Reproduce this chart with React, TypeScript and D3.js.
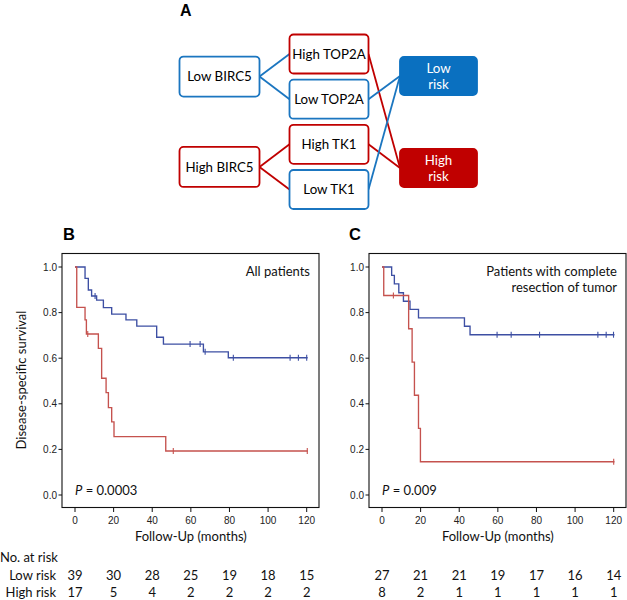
import React from 'react';
import * as d3 from 'd3';

// ---------- Data ----------
const monthTicks = [0, 20, 40, 60, 80, 100, 120];
const survTicks = [0, 0.2, 0.4, 0.6, 0.8, 1.0];

// Panel B (all patients)
const bLowTimes = [0, 5.2, 6.9, 8.6, 11.2, 14.7, 19.0, 26.4, 32.0, 42.3, 45.8, 66.5, 79.4, 120.5];
const bLowSurv = [1, 0.95, 0.899, 0.873, 0.855, 0.822, 0.793, 0.768, 0.741, 0.692, 0.662, 0.628, 0.602, 0.602];
const bLowCensor = [10.4, 59.6, 64.8, 67.4, 82, 111.4, 115.7, 120];
const bHighTimes = [0, 0.9, 5.2, 5.9, 12.1, 13.8, 16.1, 17.3, 19.0, 20.2, 47.0, 120.5];
const bHighSurv = [1, 0.823, 0.768, 0.706, 0.643, 0.512, 0.449, 0.383, 0.321, 0.256, 0.193, 0.193];
const bHighCensor = [6.6, 50.9, 120.3];
const bLowAtRisk = [39, 30, 28, 25, 19, 18, 15];
const bHighAtRisk = [17, 5, 4, 2, 2, 2, 2];

// Panel C (complete resection)
const cLowTimes = [0, 5.0, 6.4, 8.7, 11.1, 14.5, 18.9, 42.7, 45.6, 120.4];
const cLowSurv = [1, 0.963, 0.926, 0.887, 0.85, 0.814, 0.777, 0.74, 0.703, 0.703];
const cLowCensor = [59.6, 66.9, 81.6, 111.8, 116.1, 119.9];
const cHighTimes = [0, 0.9, 13.8, 15.6, 16.8, 18.9, 19.9, 120.4];
const cHighSurv = [1, 0.875, 0.729, 0.583, 0.4375, 0.292, 0.146, 0.146];
const cHighCensor = [5.9, 120.0];
const cLowAtRisk = [27, 21, 21, 19, 17, 16, 14];
const cHighAtRisk = [8, 2, 1, 1, 1, 1, 1];

// Panel A (decision diagram)
const stageLabels = [['Low BIRC5'], ['High BIRC5']];
const markerLabels = [['High TOP2A'], ['Low TOP2A'], ['High TK1'], ['Low TK1']];
const markerLevels = ['high', 'low', 'high', 'low'];
const stageLevels = ['low', 'high'];
const riskLabels = [['Low', 'risk'], ['High', 'risk']];
const riskLevels = ['low', 'high'];
const markerParent = [0, 0, 1, 1];
const markerTarget = [1, 0, 1, 0];

// ---------- Styling ----------
const KM_BLUE = '#3d4fa3';
const KM_RED = '#c5524e';
const DG_BLUE = '#1b76c0';
const DG_BLUE_FILL = '#0a70c0';
const DG_RED = '#c00000';
const TXT_FONT = 'Lato, "Open Sans", sans-serif';
const TICK_FONT = '"Liberation Sans Narrow", "Arial Narrow", "Liberation Sans", sans-serif';
const BOLD_FONT = '"Liberation Sans", Arial, sans-serif';

const BOX_TOP = 253.5;
const BOX_BOTTOM = 507.5;
const BOX_W = 257;

function stepValue(times: number[], surv: number[], t: number) {
  let v = surv[0];
  for (let i = 0; i < times.length; i++) {
    if (times[i] <= t) v = surv[i];
  }
  return v;
}

type Series = { times: number[]; surv: number[]; censor: number[]; color: string };

function KMPanel(props: {
  x0: number;
  label: string;
  labelX: number;
  title: string[];
  pValue: string;
  series: Series[];
  riskLow: number[];
  riskHigh: number[];
  yLabel?: boolean;
  rowLabels?: boolean;
}) {
  const { x0 } = props;
  const x = d3.scaleLinear().domain([0, 120]).range([x0 + 13, x0 + 13 + 231.7]);
  const y = d3.scaleLinear().domain([0, 1]).range([495, 267]);
  const line = d3
    .line<[number, number]>()
    .x((d) => x(d[0]))
    .y((d) => y(d[1]))
    .curve(d3.curveStepAfter);

  return (
    <g>
      <text x={props.labelX} y={240} fontFamily={BOLD_FONT} fontWeight="bold" fontSize={16.5} fill="#000">
        {props.label}
      </text>
      <rect x={x0} y={BOX_TOP} width={BOX_W} height={BOX_BOTTOM - BOX_TOP} fill="none" stroke="#111" strokeWidth={1.1} />
      {survTicks.map((t) => (
        <g key={'y' + t}>
          <line x1={x0 - 3.5} x2={x0} y1={y(t)} y2={y(t)} stroke="#111" strokeWidth={1} />
          <text x={x0 - 5} y={y(t)} dy="0.35em" textAnchor="end" fontFamily={TICK_FONT} fontSize={10} fill="#222">
            {t.toFixed(1)}
          </text>
        </g>
      ))}
      {monthTicks.map((t) => (
        <g key={'x' + t}>
          <line x1={x(t)} x2={x(t)} y1={BOX_BOTTOM} y2={BOX_BOTTOM + 4.5} stroke="#111" strokeWidth={1} />
          <text x={x(t)} y={524} textAnchor="middle" fontFamily={TICK_FONT} fontSize={10} fill="#222">
            {t}
          </text>
        </g>
      ))}
      <text x={x(60)} y={540.5} textAnchor="middle" fontFamily={TXT_FONT} fontSize={13} fill="#111">
        Follow-Up (months)
      </text>
      {props.yLabel && (
        <text
          transform={`translate(26,380) rotate(-90)`}
          textAnchor="middle"
          fontFamily={TXT_FONT}
          fontSize={13}
          fill="#111"
        >
          Disease-specific survival
        </text>
      )}
      {props.title.map((t, i) => (
        <text key={t} x={x0 + 248} y={276 + i * 16} textAnchor="end" fontFamily={TXT_FONT} fontSize={13} fill="#111">
          {t}
        </text>
      ))}
      <text x={x(0)} y={495} fontFamily={TXT_FONT} fontSize={13} fill="#111">
        <tspan fontStyle="italic">P</tspan>
        {' = ' + props.pValue}
      </text>
      {props.series.map((s, si) => {
        const pts = s.times.map((t, i) => [t, s.surv[i]] as [number, number]);
        return (
          <g key={si}>
            <path d={line(pts) || ''} fill="none" stroke={s.color} strokeWidth={1.35} />
            {s.censor.map((c, ci) => {
              const v = stepValue(s.times, s.surv, c);
              return (
                <line key={ci} x1={x(c)} x2={x(c)} y1={y(v) - 3} y2={y(v) + 3} stroke={s.color} strokeWidth={1.1} />
              );
            })}
          </g>
        );
      })}
      {props.rowLabels && (
        <g fontFamily={TXT_FONT} fontSize={13} fill="#111">
          <text x={0} y={562}>No. at risk</text>
          <text x={56} y={580} textAnchor="end">Low risk</text>
          <text x={56} y={597} textAnchor="end">High risk</text>
        </g>
      )}
      <g fontFamily={TXT_FONT} fontSize={13} fill="#111" textAnchor="middle">
        {props.riskLow.map((n, i) => (
          <text key={'l' + i} x={x(monthTicks[i])} y={580}>
            {n}
          </text>
        ))}
        {props.riskHigh.map((n, i) => (
          <text key={'h' + i} x={x(monthTicks[i])} y={597}>
            {n}
          </text>
        ))}
      </g>
    </g>
  );
}

function Diagram() {
  const colX = [179.5, 289.5, 400];
  const colW = [80, 79, 77];
  const colH = [40, 39, 38];
  const markerY = d3.scaleLinear().domain([0, 3]).range([54, 189.5]);
  const markerCenters = markerLabels.map((_, i) => markerY(i));
  const pairCenters = [0, 1].map((k) => (markerCenters[2 * k] + markerCenters[2 * k + 1]) / 2);
  const stageCenters = pairCenters;
  const riskCenters = [76, 168];
  const col = (lvl: string) => (lvl === 'low' ? DG_BLUE : DG_RED);

  const box = (key: string, c: number, cy: number, lines: string[], lvl: string, filled: boolean) => {
    const h = colH[c];
    const cx = colX[c] + colW[c] / 2;
    return (
      <g key={key}>
        <rect
          x={colX[c]}
          y={cy - h / 2}
          width={colW[c]}
          height={h}
          rx={4}
          fill={filled ? (lvl === 'low' ? DG_BLUE_FILL : DG_RED) : '#fff'}
          stroke={filled ? (lvl === 'low' ? DG_BLUE_FILL : DG_RED) : col(lvl)}
          strokeWidth={1.8}
        />
        {lines.map((t, i) => (
          <text
            key={i}
            x={cx}
            y={cy + (i - (lines.length - 1) / 2) * 16}
            dy="0.36em"
            textAnchor="middle"
            fontFamily={TXT_FONT}
            fontSize={13.3}
            fill={filled ? '#fff' : '#000'}
          >
            {t}
          </text>
        ))}
      </g>
    );
  };

  return (
    <g>
      <text x={180} y={16} fontFamily={BOLD_FONT} fontWeight="bold" fontSize={16} fill="#000">
        A
      </text>
      {markerLabels.map((_, i) => {
        const p = markerParent[i];
        return (
          <line
            key={'e1' + i}
            x1={colX[0] + colW[0]}
            y1={stageCenters[p]}
            x2={colX[1]}
            y2={markerCenters[i]}
            stroke={col(stageLevels[p])}
            strokeWidth={1.8}
          />
        );
      })}
      {markerLabels.map((_, i) => {
        const t = markerTarget[i];
        return (
          <line
            key={'e2' + i}
            x1={colX[1] + colW[1]}
            y1={markerCenters[i]}
            x2={colX[2]}
            y2={riskCenters[t]}
            stroke={col(markerLevels[i])}
            strokeWidth={1.8}
          />
        );
      })}
      {stageLabels.map((l, i) => box('s' + i, 0, stageCenters[i], l, stageLevels[i], false))}
      {markerLabels.map((l, i) => box('m' + i, 1, markerCenters[i], l, markerLevels[i], false))}
      {riskLabels.map((l, i) => box('r' + i, 2, riskCenters[i], l, riskLevels[i], true))}
    </g>
  );
}

export default function App() {
  return (
    <svg
      width={627}
      height={600}
      viewBox="0 0 627 600"
      style={{ position: 'absolute', left: 0, top: 0, background: '#fff' }}
    >
      <rect x={0} y={0} width={627} height={600} fill="#fff" />
      <Diagram />
      <KMPanel
        x0={62}
        label="B"
        labelX={63}
        title={['All patients']}
        pValue="0.0003"
        series={[
          { times: bLowTimes, surv: bLowSurv, censor: bLowCensor, color: KM_BLUE },
          { times: bHighTimes, surv: bHighSurv, censor: bHighCensor, color: KM_RED },
        ]}
        riskLow={bLowAtRisk}
        riskHigh={bHighAtRisk}
        yLabel
        rowLabels
      />
      <KMPanel
        x0={369}
        label="C"
        labelX={349}
        title={['Patients with complete', 'resection of tumor']}
        pValue="0.009"
        series={[
          { times: cLowTimes, surv: cLowSurv, censor: cLowCensor, color: KM_BLUE },
          { times: cHighTimes, surv: cHighSurv, censor: cHighCensor, color: KM_RED },
        ]}
        riskLow={cLowAtRisk}
        riskHigh={cHighAtRisk}
      />
    </svg>
  );
}
